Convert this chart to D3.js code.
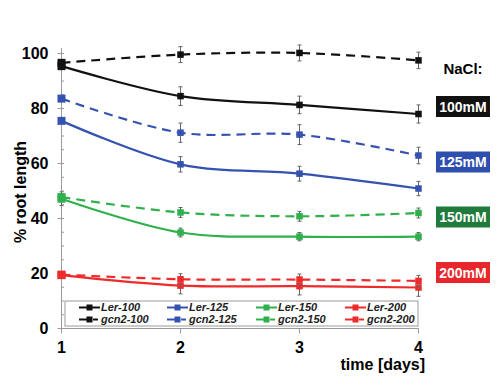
<!DOCTYPE html>
<html>
<head>
<meta charset="utf-8">
<script src="https://cdn.jsdelivr.net/npm/d3@7"></script>
<style>
  body { margin: 0; background: #fff; }
  svg { font-family: "Liberation Sans", Arial, sans-serif; }
</style>
</head>
<body>
<div id="chart"></div>
<script>
const days = [1, 2, 3, 4];
const yTicks = [0, 20, 40, 60, 80, 100];

const ler100 = [95.4, 84.5, 81.3, 78.0];
const gcn100 = [96.6, 99.6, 100.2, 97.5];
const ler125 = [75.5, 59.7, 56.3, 50.9];
const gcn125 = [83.6, 71.2, 70.5, 62.9];
const ler150 = [47.2, 34.9, 33.4, 33.4];
const gcn150 = [47.8, 42.2, 40.8, 42.0];
const ler200 = [19.4, 15.6, 15.4, 14.9];
const gcn200 = [19.6, 17.9, 17.8, 17.3];

const errLer100 = [1.0, 3.4, 3.2, 3.3];
const errGcn100 = [1.2, 2.9, 2.9, 3.0];
const errLer125 = [0.8, 2.8, 2.7, 2.6];
const errGcn125 = [0.8, 3.5, 3.6, 3.0];
const errLer150 = [2.5, 1.6, 1.5, 1.5];
const errGcn150 = [1.0, 1.8, 1.8, 1.8];
const errLer200 = [1.0, 3.0, 3.2, 3.2];
const errGcn200 = [1.0, 2.0, 2.0, 2.0];

const seriesNames = ["Ler-100", "Ler-125", "Ler-150", "Ler-200",
                     "gcn2-100", "gcn2-125", "gcn2-150", "gcn2-200"];
const concLabels = ["100mM", "125mM", "150mM", "200mM"];

const lineColors = ["#111111", "#3552b0", "#2fb04c", "#ee2b2b"];
const boxColors = ["#111111", "#2f4fae", "#1f7a3c", "#e8262b"];

const series = [
  { name: seriesNames[0], vals: ler100, err: errLer100, color: lineColors[0], dash: false },
  { name: seriesNames[1], vals: ler125, err: errLer125, color: lineColors[1], dash: false },
  { name: seriesNames[2], vals: ler150, err: errLer150, color: lineColors[2], dash: false },
  { name: seriesNames[3], vals: ler200, err: errLer200, color: lineColors[3], dash: false },
  { name: seriesNames[4], vals: gcn100, err: errGcn100, color: lineColors[0], dash: true },
  { name: seriesNames[5], vals: gcn125, err: errGcn125, color: lineColors[1], dash: true },
  { name: seriesNames[6], vals: gcn150, err: errGcn150, color: lineColors[2], dash: true },
  { name: seriesNames[7], vals: gcn200, err: errGcn200, color: lineColors[3], dash: true }
];

const width = 503, height = 378;

const svg = d3.select("#chart").append("svg")
  .attr("width", width)
  .attr("height", height);

const x = d3.scaleLinear().domain([1, 4]).range([61.5, 418.5]);
const y = d3.scaleLinear().domain([0, 100]).range([328.5, 53.5]);

// y axis
svg.append("line")
  .attr("x1", x(1)).attr("x2", x(1))
  .attr("y1", y(0)).attr("y2", y(102))
  .attr("stroke", "#9a9a9a").attr("stroke-width", 1);

svg.selectAll(".minor")
  .data(d3.range(0, 101, 5))
  .enter().append("line")
  .attr("x1", x(1)).attr("x2", x(1) + 2.5)
  .attr("y1", d => y(d)).attr("y2", d => y(d))
  .attr("stroke", "#9a9a9a");

svg.selectAll(".ytick")
  .data(yTicks)
  .enter().append("line")
  .attr("x1", x(1) - 4).attr("x2", x(1))
  .attr("y1", d => y(d)).attr("y2", d => y(d))
  .attr("stroke", "#9a9a9a");

svg.selectAll(".ylab")
  .data(yTicks)
  .enter().append("text")
  .attr("x", x(1) - 13)
  .attr("y", d => y(d) + 5.5)
  .attr("text-anchor", "end")
  .attr("font-size", 16)
  .attr("font-weight", "bold")
  .text(d => d);

// x axis
svg.append("line")
  .attr("x1", x(1)).attr("x2", x(4))
  .attr("y1", y(0)).attr("y2", y(0))
  .attr("stroke", "#9a9a9a");

svg.selectAll(".xtick")
  .data(days)
  .enter().append("line")
  .attr("x1", d => x(d)).attr("x2", d => x(d))
  .attr("y1", y(0)).attr("y2", y(0) + 5)
  .attr("stroke", "#9a9a9a");

svg.selectAll(".xlab")
  .data(days)
  .enter().append("text")
  .attr("x", d => x(d))
  .attr("y", 353)
  .attr("text-anchor", "middle")
  .attr("font-size", 16)
  .attr("font-weight", "bold")
  .text(d => d);

svg.append("text")
  .attr("x", 425)
  .attr("y", 370)
  .attr("text-anchor", "end")
  .attr("font-size", 16)
  .attr("font-weight", "bold")
  .text("time [days]");

svg.append("text")
  .attr("transform", "translate(26,192) rotate(-90)")
  .attr("text-anchor", "middle")
  .attr("font-size", 16)
  .attr("font-weight", "bold")
  .text("% root length");

// series
const line = d3.line()
  .x((d, i) => x(days[i]))
  .y(d => y(d))
  .curve(d3.curveCatmullRom.alpha(0.5));

series.forEach(s => {
  const g = svg.append("g");
  g.append("path")
    .attr("d", line(s.vals))
    .attr("fill", "none")
    .attr("stroke", s.color)
    .attr("stroke-width", 2.2)
    .attr("stroke-dasharray", s.dash ? "9,6" : null);

  s.vals.forEach((v, i) => {
    const cx = x(days[i]);
    g.append("line")
      .attr("x1", cx).attr("x2", cx)
      .attr("y1", y(v + s.err[i])).attr("y2", y(v - s.err[i]))
      .attr("stroke", "#666").attr("stroke-width", 1);
    [v + s.err[i], v - s.err[i]].forEach(e => {
      g.append("line")
        .attr("x1", cx - 2).attr("x2", cx + 2)
        .attr("y1", y(e)).attr("y2", y(e))
        .attr("stroke", "#666").attr("stroke-width", 1);
    });
    const sz = i === 0 ? 8 : 6.5;
    g.append("rect")
      .attr("x", cx - sz / 2).attr("y", y(v) - sz / 2)
      .attr("width", sz).attr("height", sz)
      .attr("fill", s.color);
  });
});

// right side labels
svg.append("text")
  .attr("x", 463)
  .attr("y", 74)
  .attr("text-anchor", "middle")
  .attr("font-size", 15)
  .attr("font-weight", "bold")
  .text("NaCl:");

const boxY = [ler100, ler125, ler150, ler200].map((v, i) => [106.5, 162, 217, 272.5][i]);
concLabels.forEach((lab, i) => {
  svg.append("rect")
    .attr("x", 436).attr("y", boxY[i] - 10.5)
    .attr("width", 54).attr("height", 21)
    .attr("fill", boxColors[i]);
  svg.append("text")
    .attr("x", 463).attr("y", boxY[i] + 5)
    .attr("text-anchor", "middle")
    .attr("font-size", 14)
    .attr("font-weight", "bold")
    .attr("fill", "#fff")
    .text(lab);
});

// legend
const leg = svg.append("g");
leg.append("rect")
  .attr("x", 65).attr("y", 301)
  .attr("width", 353).attr("height", 25)
  .attr("fill", "#fff")
  .attr("stroke", "#9a9a9a");

const colX = [79, 167, 256, 345];
series.forEach((s, k) => {
  const col = k % 4, row = Math.floor(k / 4);
  const lx = colX[col], ly = 307.5 + row * 12;
  if (s.dash) {
    leg.append("line").attr("x1", lx).attr("x2", lx + 8).attr("y1", ly).attr("y2", ly)
      .attr("stroke", s.color).attr("stroke-width", 2);
    leg.append("line").attr("x1", lx + 14).attr("x2", lx + 19).attr("y1", ly).attr("y2", ly)
      .attr("stroke", s.color).attr("stroke-width", 2);
  } else {
    leg.append("line").attr("x1", lx).attr("x2", lx + 21).attr("y1", ly).attr("y2", ly)
      .attr("stroke", s.color).attr("stroke-width", 2);
  }
  leg.append("rect")
    .attr("x", lx + 7.5).attr("y", ly - 3)
    .attr("width", 6).attr("height", 6)
    .attr("fill", s.color);
  leg.append("text")
    .attr("x", lx + 22).attr("y", ly + 3.8)
    .attr("font-size", 11)
    .attr("font-weight", "bold")
    .attr("font-style", "italic")
    .attr("fill", "#222")
    .text(s.name);
});
</script>
</body>
</html>
